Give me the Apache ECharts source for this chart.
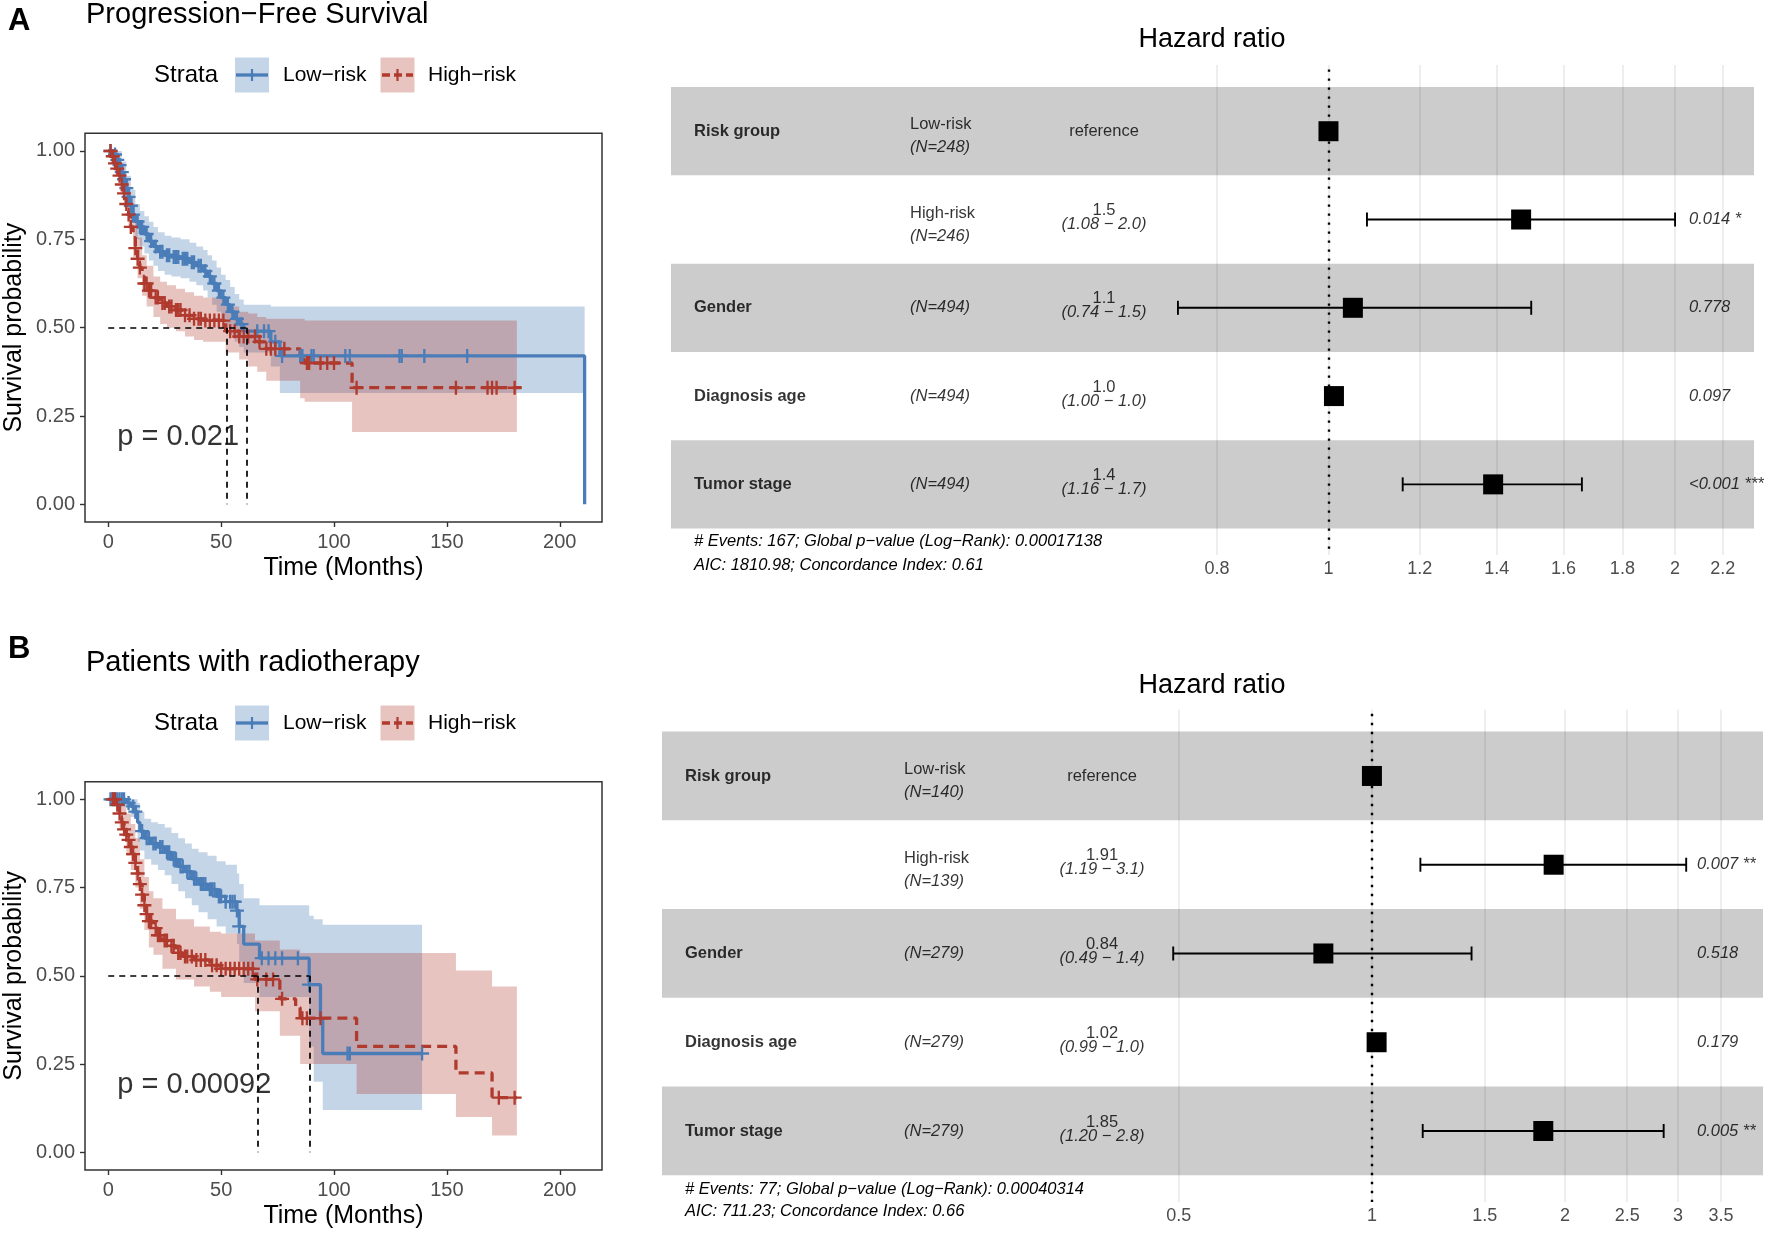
<!DOCTYPE html>
<html><head><meta charset="utf-8">
<script src="https://cdn.jsdelivr.net/npm/echarts@6/dist/echarts.min.js"></script>
<style>html,body{margin:0;padding:0;background:#fff}#c{width:1772px;height:1234px}</style>
</head><body><div id="c"></div>
<script>
// ---------------- DATA ----------------
const kmXTicks = [0, 50, 100, 150, 200];
const kmYTicks = [0, 0.25, 0.5, 0.75, 1];
const strataNames = ['Low\u2212risk', 'High\u2212risk'];

// Panel A: Progression-Free Survival  (step points [time, survival])
const kmLowA = [[0,1],[2,0.99],[4,0.975],[5,0.96],[6,0.94],[7,0.92],[8,0.895],[9,0.87],[10,0.845],[11,0.82],[12,0.80],[14,0.785],[16,0.765],[18,0.745],[20,0.73],[22,0.715],[25,0.705],[28,0.70],[32,0.695],[36,0.685],[39,0.675],[42,0.66],[44,0.645],[46,0.625],[48,0.605],[50,0.585],[52,0.565],[54,0.545],[56,0.525],[58,0.51],[60,0.49],[72,0.46],[76,0.42],[211,0]];
const kmHighA = [[0,1],[1.5,0.985],[3,0.965],[4,0.95],[5,0.93],[6,0.905],[7,0.88],[8,0.85],[9,0.82],[10,0.785],[11,0.755],[12,0.725],[13,0.695],[14,0.67],[15,0.645],[16,0.625],[18,0.605],[20,0.585],[23,0.57],[26,0.56],[30,0.55],[34,0.535],[38,0.525],[42,0.52],[52,0.49],[58,0.475],[66,0.46],[70,0.44],[85,0.41],[87,0.40],[108,0.33],[183,0.33]];
const censorLowA = [1,3,4,5,6,7,8,9,10,11,13,14,15,17,19,21,23,24,26,27,29,30,31,33,34,35,37,38,40,41,43,45,47,49,51,53,55,57,59,66,69,71,74,77,85,86,90,91,105,107,129,130,140,159];
const censorHighA = [1,2,3,4,5,6,7,8,9,10,12,13,14,16,17,18,19,21,22,24,25,27,28,30,31,32,34,36,38,40,41,43,45,47,49,51,54,56,58,60,62,65,67,70,72,74,78,88,89,94,97,100,110,154,168,170,172,180];
// confidence bands [time, lower, upper]
const bandLowA = [[0,1,1],[4,0.95,1],[6,0.91,0.97],[8,0.86,0.93],[10,0.80,0.89],[12,0.75,0.85],[14,0.73,0.83],[16,0.71,0.815],[18,0.69,0.80],[20,0.675,0.785],[22,0.66,0.77],[25,0.65,0.76],[28,0.645,0.755],[32,0.64,0.75],[36,0.63,0.74],[39,0.62,0.73],[42,0.605,0.72],[44,0.585,0.705],[46,0.565,0.69],[48,0.545,0.67],[50,0.52,0.65],[52,0.50,0.635],[54,0.48,0.615],[56,0.46,0.595],[58,0.445,0.58],[60,0.43,0.565],[72,0.39,0.56],[76,0.315,0.56],[211,0.315,0.56]];
const bandHighA = [[0,1,1],[3,0.94,0.99],[5,0.90,0.965],[7,0.84,0.92],[9,0.78,0.87],[11,0.70,0.81],[13,0.64,0.755],[15,0.59,0.705],[17,0.56,0.675],[20,0.53,0.645],[23,0.51,0.63],[26,0.50,0.62],[30,0.49,0.61],[34,0.475,0.60],[38,0.465,0.59],[42,0.46,0.585],[52,0.43,0.56],[58,0.41,0.545],[62,0.39,0.54],[66,0.375,0.53],[70,0.35,0.525],[85,0.30,0.525],[87,0.29,0.52],[108,0.205,0.52],[181,0.205,0.52]];
const medianA = [52.3, 61.2];
const pValueA = 'p = 0.021';

// Panel B: Patients with radiotherapy
const kmLowB = [[0,1],[8,0.99],[10,0.98],[12,0.965],[13,0.935],[14,0.91],[16,0.89],[19,0.875],[22,0.865],[25,0.85],[28,0.83],[31,0.81],[34,0.795],[37,0.775],[40,0.76],[44,0.745],[48,0.725],[52,0.71],[57,0.685],[58,0.64],[60,0.59],[67,0.55],[89,0.475],[94,0.375],[95,0.28],[139,0.28]];
const kmHighB = [[0,1],[4,0.985],[5,0.96],[6,0.935],[7,0.915],[8,0.90],[9,0.885],[10,0.865],[11,0.845],[12,0.82],[13,0.79],[14,0.76],[15,0.73],[16,0.70],[17,0.675],[18,0.655],[20,0.635],[22,0.615],[24,0.60],[27,0.585],[30,0.565],[33,0.555],[38,0.545],[45,0.53],[50,0.52],[65,0.49],[76,0.435],[83,0.41],[85,0.38],[110,0.30],[154,0.225],[170,0.155],[181,0.155]];
const censorLowB = [1,2,3,4,5,6,7,9,11,12,15,17,18,20,21,23,24,26,27,29,30,32,33,35,36,38,39,41,42,43,45,46,47,49,50,52,54,55,56,57,58,68,71,74,77,84,89,106,107,139];
const censorHighB = [2,3,4,5,6,7,8,9,10,11,12,13,14,15,16,17,18,19,21,22,23,25,26,28,29,31,32,34,35,37,39,41,43,46,48,50,52,54,56,58,60,62,64,66,70,73,77,86,88,94,173,180];
const bandLowB = [[0,1,1],[10,0.95,1],[13,0.88,0.99],[14,0.855,0.965],[16,0.83,0.945],[19,0.815,0.935],[22,0.80,0.93],[25,0.785,0.92],[28,0.76,0.905],[31,0.74,0.89],[34,0.72,0.875],[37,0.70,0.86],[40,0.68,0.85],[44,0.66,0.84],[48,0.64,0.825],[52,0.62,0.815],[57,0.59,0.79],[58,0.54,0.76],[60,0.48,0.72],[67,0.44,0.70],[89,0.30,0.67],[91,0.20,0.66],[95,0.12,0.645],[139,0.12,0.645]];
const bandHighB = [[0,1,1],[5,0.92,1],[8,0.84,0.96],[10,0.80,0.93],[12,0.75,0.89],[14,0.69,0.83],[16,0.63,0.78],[18,0.58,0.74],[20,0.56,0.72],[24,0.52,0.69],[30,0.49,0.66],[38,0.47,0.64],[45,0.455,0.625],[50,0.44,0.62],[65,0.40,0.60],[76,0.33,0.575],[85,0.25,0.565],[110,0.165,0.565],[154,0.10,0.515],[170,0.048,0.47],[181,0.048,0.47]];
const medianB = [66.1, 89.1];
const pValueB = 'p = 0.00092';

// Forest plots
const forestVars = ['Risk group', '', 'Gender', 'Diagnosis age', 'Tumor stage'];
const forestLevels = ['Low-risk', 'High-risk', '', '', ''];
const forestTicksA = [0.8, 1, 1.2, 1.4, 1.6, 1.8, 2, 2.2];
const nA = ['(N=248)', '(N=246)', '(N=494)', '(N=494)', '(N=494)'];
const hrA = [1, 1.47, 1.05, 1.011, 1.39];
const ciLowA = [null, 1.08, 0.74, 1.00, 1.16];
const ciHighA = [null, 2.0, 1.5, 1.02, 1.66];
const hrTextA = ['reference', '1.5', '1.1', '1.0', '1.4'];
const ciTextA = ['', '(1.08 \u2212 2.0)', '(0.74 \u2212 1.5)', '(1.00 \u2212 1.0)', '(1.16 \u2212 1.7)'];
const pTextA = ['', '0.014 *', '0.778', '0.097', '<0.001 ***'];
const footA = ['# Events: 167; Global p\u2212value (Log\u2212Rank): 0.00017138', 'AIC: 1810.98; Concordance Index: 0.61'];

const forestTicksB = [0.5, 1, 1.5, 2, 2.5, 3, 3.5];
const nB = ['(N=140)', '(N=139)', '(N=279)', '(N=279)', '(N=279)'];
const hrB = [1, 1.92, 0.84, 1.017, 1.85];
const ciLowB = [null, 1.19, 0.49, 0.99, 1.20];
const ciHighB = [null, 3.09, 1.43, 1.04, 2.85];
const hrTextB = ['reference', '1.91', '0.84', '1.02', '1.85'];
const ciTextB = ['', '(1.19 \u2212 3.1)', '(0.49 \u2212 1.4)', '(0.99 \u2212 1.0)', '(1.20 \u2212 2.8)'];
const pTextB = ['', '0.007 **', '0.518', '0.179', '0.005 **'];
const footB = ['# Events: 77; Global p\u2212value (Log\u2212Rank): 0.00040314', 'AIC: 711.23; Concordance Index: 0.66'];

// ---------------- STYLE ----------------
const FF = '"Liberation Sans", Arial, Helvetica, sans-serif';
const BLUE = '#4A7DB8', RED = '#B03A2E';
const BLUE_BAND = 'rgba(74,125,184,0.32)', RED_BAND = 'rgba(176,58,46,0.30)';
const PLUS = 'path://M5,0h2v5h5v2h-5v5h-2v-5h-5v-2h5z';

function survAt(steps, t) {
  let s = steps[0][1];
  for (const [x, y] of steps) { if (x <= t) s = y; else break; }
  return s;
}

const chart = echarts.init(document.getElementById('c'), null, {renderer: 'canvas'});

const grids = [
  {left: 85, top: 133.3, width: 517, height: 388.7},
  {left: 671, top: 65, width: 1083, height: 490},
  {left: 85, top: 781.7, width: 517, height: 388.3},
  {left: 662, top: 709.4, width: 1101, height: 492.6}
].map(g => Object.assign({show: false, containLabel: false}, g));
[0, 2].forEach(i => { grids[i].show = true; grids[i].borderColor = '#333'; grids[i].borderWidth = 1.5; grids[i].backgroundColor = 'transparent'; });

function kmX(gi) {
  return {type: 'value', gridIndex: gi, min: -10.3, max: 218.7,
    name: 'Time (Months)', nameLocation: 'middle', nameGap: 34,
    nameTextStyle: {fontSize: 25, color: '#000', fontFamily: FF},
    axisLine: {show: false, onZero: false},
    axisTick: {show: true, length: 5, lineStyle: {color: '#333', width: 1.4}, customValues: kmXTicks},
    axisLabel: {customValues: kmXTicks, fontSize: 20, color: '#4d4d4d', margin: 10, fontFamily: FF},
    splitLine: {show: false}};
}
function kmY(gi) {
  return {type: 'value', gridIndex: gi, min: -0.05, max: 1.05,
    name: 'Survival probability', nameLocation: 'middle', nameGap: 58,
    nameTextStyle: {fontSize: 25, color: '#000', fontFamily: FF},
    axisLine: {show: false, onZero: false},
    axisTick: {show: true, length: 5, lineStyle: {color: '#333', width: 1.4}, customValues: kmYTicks},
    axisLabel: {customValues: kmYTicks, fontSize: 20, color: '#4d4d4d', margin: 10, fontFamily: FF,
      formatter: v => Number(v).toFixed(2)},
    splitLine: {show: false}};
}

// forest axis extents (pixel-calibrated)
const FA = {logMin: 0.2685, logMax: 2.342, width: 1083};
const FB = {logMin: 0.0782, logMax: 4.071, width: 1101};

const xAxis = [
  kmX(0),
  {type: 'log', gridIndex: 1, min: FA.logMin, max: FA.logMax, show: false},
  {type: 'value', gridIndex: 1, min: 0, max: FA.width, show: false},
  kmX(2),
  {type: 'log', gridIndex: 3, min: FB.logMin, max: FB.logMax, show: false},
  {type: 'value', gridIndex: 3, min: 0, max: FB.width, show: false}
];
const yAxis = [
  kmY(0),
  {type: 'value', gridIndex: 1, min: 0.25, max: 5.8, inverse: true, show: false},
  kmY(2),
  {type: 'value', gridIndex: 3, min: 0.25, max: 5.8, inverse: true, show: false}
];

function bandSeries(band, color, xi, yi) {
  return {type: 'custom', xAxisIndex: xi, yAxisIndex: yi, data: band, clip: true, silent: true, z: 1,
    encode: {x: 0, y: [1, 2]},
    renderItem: (params, api) => {
      if (params.dataIndex !== 0) return null;
      const up = [], lo = [];
      for (let i = 0; i < band.length; i++) {
        const t = band[i][0], l = band[i][1], h = band[i][2];
        const tn = i < band.length - 1 ? band[i + 1][0] : t;
        up.push(api.coord([t, h]), api.coord([tn, h]));
        lo.push(api.coord([t, l]), api.coord([tn, l]));
      }
      return {type: 'polygon', shape: {points: up.concat(lo.reverse())}, style: {fill: color}};
    }};
}

function kmSeries(xi, yi, low, high, cLow, cHigh, bLow, bHigh, med, pText) {
  const s = [];
  s.push(bandSeries(bLow, BLUE_BAND, xi, yi));
  s.push(bandSeries(bHigh, RED_BAND, xi, yi));
  s.push({type: 'line', name: strataNames[0], xAxisIndex: xi, yAxisIndex: yi, step: 'end', data: low, showSymbol: false,
    symbol: 'none', lineStyle: {color: BLUE, width: 3.3}, z: 3, silent: true});
  s.push({type: 'line', name: strataNames[1], xAxisIndex: xi, yAxisIndex: yi, step: 'end', data: high, showSymbol: false,
    symbol: 'none', lineStyle: {color: RED, width: 3.3, type: [10, 6]}, z: 3, silent: true});
  s.push({type: 'scatter', xAxisIndex: xi, yAxisIndex: yi, data: cLow.map(t => [t, survAt(low, t)]),
    symbol: PLUS, symbolSize: 14, itemStyle: {color: BLUE, opacity: 1}, z: 4, silent: true});
  s.push({type: 'scatter', xAxisIndex: xi, yAxisIndex: yi, data: cHigh.map(t => [t, survAt(high, t)]),
    symbol: PLUS, symbolSize: 14, itemStyle: {color: RED, opacity: 1}, z: 4, silent: true});
  const mMax = Math.max(...med);
  s.push({type: 'line', xAxisIndex: xi, yAxisIndex: yi, data: [], silent: true,
    markLine: {silent: true, symbol: ['none', 'none'], z: 5, label: {show: false},
      lineStyle: {color: '#000', width: 1.7, type: [6, 5]},
      data: [[{coord: [0, 0.5]}, {coord: [mMax, 0.5]}]].concat(med.map(m => [{coord: [m, 0.5]}, {coord: [m, 0]}]))}});
  s.push({type: 'scatter', xAxisIndex: xi, yAxisIndex: yi, data: [[4, 0.19]], symbolSize: 1, silent: true, z: 6,
    itemStyle: {color: 'rgba(0,0,0,0)'},
    label: {show: true, position: 'inside', align: 'left', verticalAlign: 'middle', formatter: pText,
      fontSize: 29, color: '#000', fontFamily: FF}});
  return s;
}

function forestSeries(xi, xti, yi, F, ticks, nArr, hr, ciL, ciH, hrT, ciT, pT, cols) {
  const s = [];
  s.push({type: 'line', xAxisIndex: xi, yAxisIndex: yi, data: [], silent: true,
    markArea: {silent: true, z: 1, itemStyle: {color: '#cccccc'},
      data: [1, 3, 5].map(r => [{coord: [F.logMin, r - 0.5]}, {coord: [F.logMax, r + 0.5]}])}});
  s.push({type: 'line', xAxisIndex: xi, yAxisIndex: yi, data: [], silent: true,
    markLine: {silent: true, symbol: ['none', 'none'], z: 2,
      lineStyle: {color: 'rgba(0,0,0,0.09)', width: 1.5, type: 'solid'},
      label: {show: true, position: 'start', distance: 5, fontSize: 18, color: '#4d4d4d', fontFamily: FF, formatter: '{b}'},
      data: ticks.map(v => [{coord: [v, 5.8], name: String(v)}, {coord: [v, 0.25]}])}});
  s.push({type: 'line', xAxisIndex: xi, yAxisIndex: yi, data: [], silent: true,
    markLine: {silent: true, symbol: ['none', 'none'], z: 3, label: {show: false},
      lineStyle: {color: '#000', width: 2.4, type: [2.4, 6.6]},
      data: [[{coord: [1, 0.3]}, {coord: [1, 5.8]}]]}});
  const eb = [];
  hr.forEach((v, i) => { if (ciL[i] != null) eb.push([ciL[i], ciH[i], i + 1]); });
  s.push({type: 'custom', xAxisIndex: xi, yAxisIndex: yi, data: eb, z: 3, silent: true,
    encode: {x: [0, 1], y: 2},
    renderItem: (params, api) => {
      const a = api.coord([api.value(0), api.value(2)]);
      const b = api.coord([api.value(1), api.value(2)]);
      const st = {stroke: '#000', lineWidth: 1.9};
      return {type: 'group', children: [
        {type: 'line', shape: {x1: a[0], y1: a[1], x2: b[0], y2: b[1]}, style: st},
        {type: 'line', shape: {x1: a[0], y1: a[1] - 7, x2: a[0], y2: a[1] + 7}, style: st},
        {type: 'line', shape: {x1: b[0], y1: b[1] - 7, x2: b[0], y2: b[1] + 7}, style: st}
      ]};
    }});
  s.push({type: 'scatter', xAxisIndex: xi, yAxisIndex: yi, data: hr.map((v, i) => [v, i + 1]),
    symbol: 'rect', symbolSize: 20, itemStyle: {color: '#000', opacity: 1}, z: 4, silent: true});
  const rich = {
    v: {fontSize: 16.5, fontWeight: 'bold', fontFamily: FF, color: '#000'},
    lv: {fontSize: 16.5, lineHeight: 23, fontFamily: FF, color: '#000'},
    n: {fontSize: 16.5, fontStyle: 'italic', lineHeight: 23, fontFamily: FF, color: '#000'},
    hr: {fontSize: 16.5, lineHeight: 14, fontFamily: FF, color: '#000'},
    ci: {fontSize: 16.5, fontStyle: 'italic', lineHeight: 14, fontFamily: FF, color: '#000'},
    rf: {fontSize: 16.5, fontFamily: FF, color: '#000'},
    p: {fontSize: 16.5, fontStyle: 'italic', fontFamily: FF, color: '#000'}
  };
  const items = [];
  forestVars.forEach((v, i) => {
    const r = i + 1;
    if (v) items.push({value: [cols.v, r], label: {formatter: '{v|' + v + '}', align: 'left'}});
    const lvl = forestLevels[i];
    if (lvl) items.push({value: [cols.lv, r], label: {formatter: '{lv|' + lvl + '}\n{n|' + nArr[i] + '}', align: 'left', offset: [0, 5]}});
    else items.push({value: [cols.lv, r], label: {formatter: '{n|' + nArr[i] + '}', align: 'left'}});
    if (hrT[i] === 'reference') items.push({value: [cols.hr, r], label: {formatter: '{rf|reference}', align: 'center'}});
    else items.push({value: [cols.hr, r], label: {formatter: '{hr|' + hrT[i] + '}\n{ci|' + ciT[i] + '}', align: 'center', offset: [0, -2]}});
    if (pT[i]) items.push({value: [cols.p, r], label: {formatter: '{p|' + pT[i] + '}', align: 'left'}});
  });
  s.push({type: 'scatter', xAxisIndex: xti, yAxisIndex: yi, data: items, symbolSize: 1, silent: true, z: 6,
    itemStyle: {color: 'rgba(0,0,0,0)'},
    label: {show: true, position: 'inside', verticalAlign: 'middle', rich: rich}});
  return s;
}

const series = [].concat(
  kmSeries(0, 0, kmLowA, kmHighA, censorLowA, censorHighA, bandLowA, bandHighA, medianA, pValueA),
  forestSeries(1, 2, 1, FA, forestTicksA, nA, hrA, ciLowA, ciHighA, hrTextA, ciTextA, pTextA,
    {v: 23, lv: 239, hr: 433, p: 1018}),
  kmSeries(3, 2, kmLowB, kmHighB, censorLowB, censorHighB, bandLowB, bandHighB, medianB, pValueB),
  forestSeries(4, 5, 3, FB, forestTicksB, nB, hrB, ciLowB, ciHighB, hrTextB, ciTextB, pTextB,
    {v: 23, lv: 242, hr: 440, p: 1035})
);

function txt(text, x, y, size, opts) {
  return {type: 'text', x: x, y: y, silent: true, style: Object.assign({text: text, fontSize: size, fontFamily: FF,
    fill: '#000', align: 'left', verticalAlign: 'middle'}, opts || {})};
}
function legend(cy) {
  return [
    txt('Strata', 154, cy, 24),
    {type: 'rect', silent: true, shape: {x: 235, y: cy - 17.5, width: 34, height: 35}, style: {fill: BLUE_BAND}},
    {type: 'line', silent: true, shape: {x1: 236, y1: cy, x2: 268, y2: cy}, style: {stroke: BLUE, lineWidth: 3.3}},
    {type: 'line', silent: true, shape: {x1: 252, y1: cy - 6, x2: 252, y2: cy + 6}, style: {stroke: BLUE, lineWidth: 2.2}},
    txt(strataNames[0], 283, cy, 21),
    {type: 'rect', silent: true, shape: {x: 380.5, y: cy - 17.5, width: 34, height: 35}, style: {fill: RED_BAND}},
    {type: 'line', silent: true, shape: {x1: 382, y1: cy, x2: 413, y2: cy}, style: {stroke: RED, lineWidth: 3.3, lineDash: [8, 4]}},
    {type: 'line', silent: true, shape: {x1: 397.5, y1: cy - 6, x2: 397.5, y2: cy + 6}, style: {stroke: RED, lineWidth: 2.2}},
    txt(strataNames[1], 428, cy, 21)
  ];
}

const graphic = [].concat(
  [txt('A', 8, 21, 31, {fontWeight: 'bold'}),
   txt('Progression\u2212Free Survival', 86, 15, 29),
   txt('Hazard ratio', 1212, 40, 27, {align: 'center'}),
   txt(footA[0], 694, 541, 16.5, {fontStyle: 'italic'}),
   txt(footA[1], 694, 565, 16.5, {fontStyle: 'italic'}),
   txt('B', 8, 649, 31, {fontWeight: 'bold'}),
   txt('Patients with radiotherapy', 86, 663, 29),
   txt('Hazard ratio', 1212, 686, 27, {align: 'center'}),
   txt(footB[0], 685, 1189, 16.5, {fontStyle: 'italic'}),
   txt(footB[1], 685, 1211, 16.5, {fontStyle: 'italic'})],
  legend(75), legend(723)
);

chart.setOption({
  backgroundColor: '#fff',
  animation: false,
  textStyle: {fontFamily: FF},
  grid: grids,
  xAxis: xAxis,
  yAxis: yAxis,
  series: series,
  graphic: graphic
});
</script>
</body></html>
